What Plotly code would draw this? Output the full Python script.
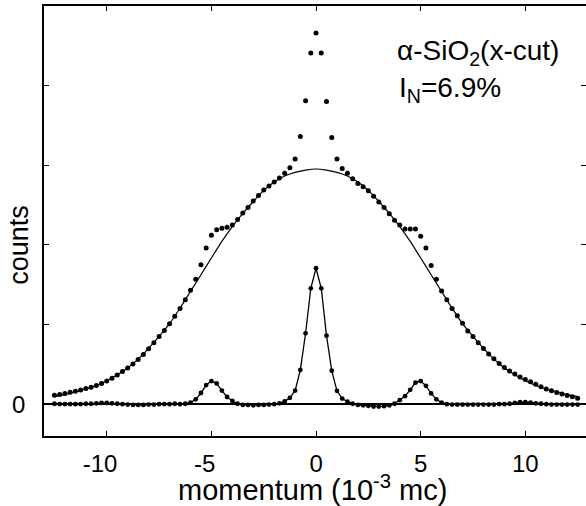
import plotly.graph_objects as go

# momentum grid of the measured points (10^-3 mc)
momentum = [i * 0.25 - 12.5 for i in range(101)]

# measured counts (upper dotted series), arbitrary units (1 unit = one y tick step)
counts_data = [
    0.113, 0.122, 0.135, 0.148, 0.162, 0.178, 0.195, 0.213, 0.235, 0.26,
    0.29, 0.325, 0.365, 0.41, 0.455, 0.505, 0.56, 0.625, 0.695, 0.77,
    0.85, 0.925, 1.01, 1.105, 1.20, 1.31, 1.43, 1.57, 1.75, 1.96,
    2.12, 2.19, 2.21, 2.22, 2.25, 2.32, 2.40, 2.47, 2.55, 2.62,
    2.69, 2.74, 2.79, 2.84, 2.90, 2.97, 3.08, 3.36, 3.81, 4.41,
    4.66,
    4.41, 3.80, 3.35, 3.08, 2.96, 2.90, 2.83, 2.77, 2.73, 2.68,
    2.61, 2.54, 2.47, 2.39, 2.31, 2.25, 2.20, 2.20, 2.20, 2.11,
    1.96, 1.74, 1.57, 1.42, 1.31, 1.20, 1.11, 1.015, 0.92, 0.85,
    0.77, 0.70, 0.63, 0.57, 0.51, 0.46, 0.415, 0.38, 0.34, 0.31,
    0.28, 0.25, 0.22, 0.19, 0.167, 0.147, 0.126, 0.109, 0.092, 0.075,
]

# difference (data - fit), lower series
difference = [
    0.005, 0.0, 0.0, 0.0, 0.0, 0.0, 0.005, 0.005, 0.01, 0.015,
    0.015, 0.01, 0.005, 0.0, -0.005, -0.01, -0.01, -0.01, -0.005, -0.005,
    0.0, 0.0, 0.0, 0.005, 0.0, 0.005, 0.02, 0.06, 0.14, 0.24,
    0.29, 0.26, 0.17, 0.09, 0.04, 0.005, -0.01, -0.01, -0.015, -0.01,
    -0.01, -0.005, 0.0, 0.01, 0.035, 0.08, 0.17, 0.43, 0.89, 1.455,
    1.707,
    1.455, 0.86, 0.42, 0.167, 0.07, 0.03, 0.005, -0.01, -0.015, -0.02,
    -0.03, -0.03, -0.025, -0.015, 0.005, 0.05, 0.10, 0.18, 0.27, 0.29,
    0.23, 0.135, 0.06, 0.02, 0.0, -0.005, -0.005, -0.005, -0.005, -0.005,
    -0.005, -0.005, -0.005, -0.005, 0.0, 0.0, 0.005, 0.015, 0.025, 0.025,
    0.02, 0.01, 0.005, 0.0, -0.005, -0.005, -0.005, -0.005, -0.005, -0.005,
]

# broad fitted component (solid curve), sampled every 0.5
fit_momentum = [i * 0.5 - 12.5 for i in range(51)]
fit_counts = [
    0.095, 0.12, 0.155, 0.19, 0.235, 0.295, 0.37, 0.455, 0.565, 0.70,
    0.85, 1.01, 1.205, 1.415, 1.625, 1.835, 2.045, 2.23, 2.395, 2.545,
    2.685, 2.79, 2.865, 2.91, 2.94,
    2.953,
    2.94, 2.91, 2.865, 2.79, 2.685, 2.545, 2.395, 2.23, 2.045, 1.835,
    1.625, 1.415, 1.205, 1.01, 0.85, 0.70, 0.565, 0.455, 0.37, 0.295,
    0.235, 0.19, 0.155, 0.12, 0.095,
]

NBSP = "\u00a0"
x_ticks = [-10, -5, 0, 5, 10]
x_tick_text = ["-10" + NBSP * 2, "-5" + NBSP * 2, "0", "5", "10"]
y_label_ticks = [0]
y_label_text = ["0"]
y_unlabelled_ticks = [1, 2, 3, 4]

FONT = "Liberation Sans, Arial, Helvetica, sans-serif"

fig = go.Figure()
fig.add_trace(go.Scatter(
    x=fit_momentum, y=fit_counts, mode="lines",
    line=dict(color="black", width=1.2, shape="spline", smoothing=0.8),
    hoverinfo="skip", showlegend=False))
fig.add_trace(go.Scatter(
    x=momentum, y=counts_data, mode="markers",
    marker=dict(color="black", size=5),
    showlegend=False))
fig.add_trace(go.Scatter(
    x=momentum, y=difference, mode="lines+markers",
    line=dict(color="black", width=1.3),
    marker=dict(color="black", size=4.8),
    showlegend=False))

axis_common = dict(
    showline=True, linecolor="black", linewidth=1.5, mirror="ticks",
    ticks="inside", ticklen=5, tickwidth=1, tickcolor="black",
    showgrid=False, automargin=False,
    tickfont=dict(family=FONT, size=24, color="black"),
)

fig.update_xaxes(range=[-13, 12.9], tickvals=x_ticks, ticktext=x_tick_text,
                 zeroline=False, ticklabelstandoff=5, **axis_common)
fig.update_yaxes(range=[-0.4, 5.0], tickvals=y_label_ticks, ticktext=y_label_text,
                 minor=dict(tickvals=y_unlabelled_ticks, ticks="inside", ticklen=5,
                            tickwidth=1, tickcolor="black", showgrid=False),
                 zeroline=True, zerolinecolor="black", zerolinewidth=2,
                 ticklabelstandoff=12, **axis_common)

fig.add_annotation(text="α-SiO<sub>2</sub>(x-cut)", x=0.648, y=0.891,
                   xref="paper", yref="paper", xanchor="left", yanchor="middle",
                   showarrow=False, font=dict(family=FONT, size=28, color="black"))
fig.add_annotation(text="I<sub>N</sub>=6.9%", x=0.652, y=0.805,
                   xref="paper", yref="paper", xanchor="left", yanchor="middle",
                   showarrow=False, font=dict(family=FONT, size=28, color="black"))
fig.add_annotation(text="momentum (10<sup>-3</sup> mc)", x=0.495, y=-0.12,
                   xref="paper", yref="paper", xanchor="center", yanchor="middle",
                   showarrow=False, font=dict(family=FONT, size=29, color="black"))
fig.add_annotation(text="counts", x=-0.046, y=0.445, textangle=-90,
                   xref="paper", yref="paper", xanchor="center", yanchor="middle",
                   showarrow=False, font=dict(family=FONT, size=27, color="black"))

fig.update_layout(
    width=586, height=506,
    margin=dict(l=44, r=0, t=6, b=70),
    paper_bgcolor="white", plot_bgcolor="white",
    showlegend=False,
)

fig.write_html("out.html",
               config={"displayModeBar": False},
               post_script="document.body.style.margin='0px';document.body.style.overflow='hidden';")
